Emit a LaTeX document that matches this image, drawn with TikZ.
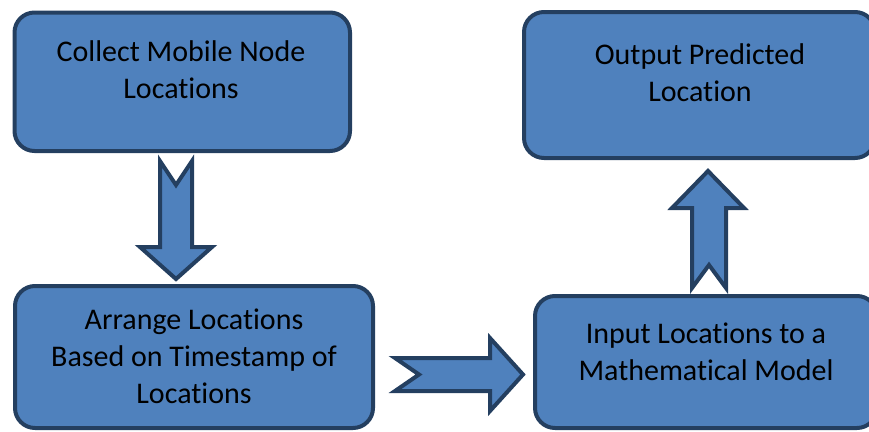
\documentclass[tikz,border=0pt]{standalone}
\usepackage{fontspec}
\setmainfont{Carlito}[Ligatures=NoCommon]
\definecolor{boxfill}{HTML}{4F81BD}
\definecolor{boxline}{HTML}{243F60}
\begin{document}
\begin{tikzpicture}[x=1pt,y=-1pt,
  box/.style={draw=boxline, fill=boxfill, line width=4pt, rounded corners=20pt, inner sep=0pt, outer sep=0pt},
  txt/.style={font=\fontsize{30}{36.6}\selectfont, align=center, text=black, inner sep=0pt, anchor=base},
  barrow/.style={draw=boxline, fill=boxfill, line width=4pt, line join=miter}]
\useasboundingbox (0,0) rectangle (869,431);
% boxes
\node[box, minimum width=335.5pt, minimum height=138.5pt] (b1) at (182.25,81.75) {};
\node[box, minimum width=351pt, minimum height=146pt] (b2) at (699.5,85) {};
\node[box, minimum width=358pt, minimum height=142pt] (b3) at (194,357) {};
\node[box, minimum width=342pt, minimum height=132pt] (b4) at (706,362) {};
% texts (anchored at the baseline of the last line)
\node[txt] (t1) at (181,98) {Collect Mobile Node\\Locations};
\node[txt] (t2) at (700,101) {Output Predicted\\Location};
\node[txt] (t3) at (194,403) {Arrange Locations\\Based on Timestamp of\\Locations};
\node[txt] (t4) at (706,380) {Input Locations to a\\Mathematical Model};
% block arrows
\draw[barrow] (160,161) -- (176,185) -- (192,161) -- (192,247) -- (212,247) -- (176,279) -- (140,247) -- (160,247) -- cycle;
\draw[barrow] (395,358) -- (419,374.5) -- (395,391) -- (490,391) -- (490,411) -- (523,374.5) -- (490,338) -- (490,358) -- cycle;
\draw[barrow] (692,288) -- (709,265) -- (726,288) -- (726,208) -- (744,208) -- (708,171) -- (672,208) -- (692,208) -- cycle;
\end{tikzpicture}
\end{document}
